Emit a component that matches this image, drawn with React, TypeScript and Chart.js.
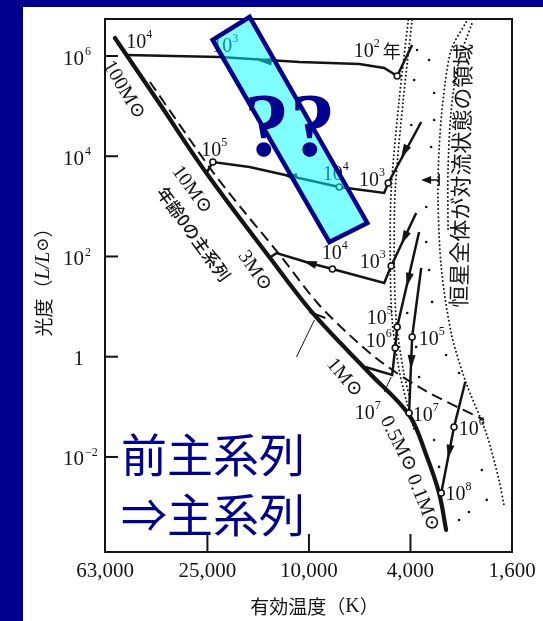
import { useEffect, useRef } from 'react';
import { Chart, registerables } from 'chart.js';

Chart.register(...registerables);

// ---------- axes ----------
const T_MIN = 1600;
const T_MAX = 63000;
const L_MIN = 1.27e-4;
const L_MAX = 5.47e6;
const X_TICKS = [63000, 25000, 10000, 4000, 1600];
const X_TICK_LABELS = ['63,000', '25,000', '10,000', '4,000', '1,600'];
const Y_TICKS = [1e-2, 1, 1e2, 1e4, 1e6];
const Y_TICK_EXPONENTS = ['−2', '', '2', '4', '6'];

// ---------- zero-age main sequence (T [K], L [Lsun]) ----------
const ZAMS_T = [57600, 38400, 25400, 14300, 9520, 5800, 4050, 3470, 3090, 2900];
const ZAMS_L = [2.29e6, 1.1e5, 4850, 97.7, 6.81, 0.474, 0.0689, 0.011, 0.00191, 3.5e-4];

// dashed line
const DASHED_T = [42000, 23800, 17900, 13000, 9260, 6940, 5210, 3540, 2060];
const DASHED_L = [3.03e5, 4850, 773, 107, 11.8, 2.72, 0.785, 0.217, 0.0547];

// pre-main-sequence tracks
const TRACK_100_T = [3940, 4510, 5070, 6350, 10900, 22400, 52100];
const TRACK_100_L = [1.66e6, 3.99e5, 5.77e5, 6.92e5, 7.59e5, 9.55e5, 1.05e6];
const TRACK_10_T = [3630, 4890, 5070, 7600, 11900, 17100, 23800, 25200];
const TRACK_10_L = [4.82e4, 2920, 1850, 2440, 4040, 6110, 7670, 4630];
const TRACK_3_T = [3800, 4760, 5070, 8090, 9950, 13400, 14300];
const TRACK_3_L = [738, 64.7, 29.6, 56.4, 74.1, 117, 93.3];
const TRACK_1_T = [3700, 4510, 4590, 4720, 6010];
const TRACK_1_L = [308, 3.93, 1.5, 0.432, 0.625];
const TRACK_05_T = [3630, 3940, 4050];
const TRACK_05_L = [59.0, 2.48, 0.0755];
const TRACK_01_T = [2440, 2700, 3030];
const TRACK_01_L = [0.313, 0.0397, 0.00191];

// age markers (open circles)
const AGE_MARK_T = [4510, 23800, 7600, 4890, 8090, 4760, 4510, 4590, 3940, 4050, 2700, 3030];
const AGE_MARK_L = [3.99e5, 7670, 2440, 2920, 56.4, 64.7, 3.93, 1.5, 2.48, 0.0755, 0.0397, 0.00191];

// arrowheads: position and the point they head to
const ARROW_T = [14900, 4230, 11900, 4230, 9950, 4080, 3970, 2820];
const ARROW_L = [7.94e5, 1.22e4, 4040, 234, 74.1, 34.0, 0.785, 0.0126];
const ARROW_TO_T = [22400, 4890, 17100, 4760, 13400, 4510, 4050, 3030];
const ARROW_TO_L = [9.55e5, 2920, 6110, 64.7, 117, 3.93, 0.0755, 0.00191];

// Hayashi / fully-convective boundaries (dotted)
const HAYASHI_A_T = [4080, 4430, 4760, 4800, 4720, 4430, 4160, 3870];
const HAYASHI_A_L = [5.22e6, 1.32e5, 2120, 85.1, 5.41, 0.545, 0.137, 0.0346];
const HAYASHI_B_T = [3940, 4270, 4590, 4630, 4550, 4270, 4010];
const HAYASHI_B_L = [5.22e6, 1.32e5, 2120, 85.1, 5.41, 0.545, 0.137];
const CONV_A_T = [2420, 2770, 2980, 3090, 3120, 3030, 2770, 2420, 2020, 1800, 1720];
const CONV_A_L = [4.77e6, 1.32e6, 1.32e5, 1.33e4, 1340, 61.8, 2.98, 0.299, 0.0301, 0.00348, 0.0011];
const CONV_B_T = [2300, 2580, 2770, 2850, 2850];
const CONV_B_L = [4.35e6, 8.32e5, 8.37e4, 5320, 338];
const DOTS_T = [3770, 3870, 3230, 3970, 3230, 3320, 3470, 3470, 3380, 3290, 4120, 3800, 2900, 3700, 2580, 3230, 3090, 2100, 2010, 2580, 2360, 3380];
const DOTS_L = [1.32e6, 3.32e5, 1.83e5, 4.2e4, 5.28e4, 1.53e4, 973, 194, 53.8, 12.4, 7.46, 1.57, 1.08, 0.394, 0.474, 0.0218, 0.00633, 0.00551, 0.00139, 5.54e-4, 8.0e-4, 8.32e5];

// thin leader lines
const LEADER_T = [11190, 9515];
const LEADER_L = [0.989, 5.41];
const CROSS_T = [9950, 8620];
const CROSS_L = [7.82, 5.93];
const LEADER2_T = [4760, 5070];
const LEADER2_L = [0.394, 0.198];

// arrow pointing into convective region label
const CONV_ARROW_T = [3090, 3600];
const CONV_ARROW_L = [3360, 3360];

// age labels (10^n years)
const AGE_LABEL_T = [45600, 21000, 5400, 23200, 7740, 5590, 7810, 5550, 5210, 5250, 3260, 5800, 3440, 2270, 2560];
const AGE_LABEL_L = [1.99e6, 1.66e6, 1.32e6, 1.4e4, 4630, 3520, 123, 81.3, 6.21, 2.16, 2.37, 0.0791, 0.0721, 0.0379, 0.00191];
const AGE_LABEL_EXP = ['4', '3', '2', '5', '4', '3', '4', '3', '5', '6', '5', '7', '7', '6', '8'];
const AGE_LABEL_SUFFIX = ['', '', '年', '', '', '', '', '', '', '', '', '', '', '', ''];

// mass labels along ZAMS
const MASS_LABELS = ['100M⊙', '10M⊙', '3M⊙', '1M⊙', '0.5M⊙', '0.1M⊙'];
const MASS_T = [53100, 28800, 16300, 7260, 4470, 3570];
const MASS_L = [2.1e5, 2120, 51.4, 0.377, 0.0182, 0.00121];
const MASS_ANGLE = [59, 54, 55, 50, 63, 68];

const ZAMS_LABEL = '年齢0の主系列';
const ZAMS_LABEL_POS = [28300, 281, 54];
const CONV_LABEL = '恒星全体が対流状態の領域';
const CONV_LABEL_POS = [2540, 4100, -89];

// highlight box
const BOX_T = [23840, 17080, 5905, 8315];
const BOX_L = [2.09e6, 6.0e6, 466, 194];

const NAVY = '#00008e';
const INK = '#141414';
const SERIF = '"Liberation Serif", "DejaVu Serif", serif';
const CJK = '"Noto Sans CJK JP", sans-serif';

const pts = (ts: number[], ls: number[]) => ts.map((t, i) => ({ x: t, y: ls[i] }));

type Seg = { text: string; font: string; dy?: number };

function drawSegs(ctx: CanvasRenderingContext2D, segs: Seg[], cx: number, cy: number, angle = 0) {
  ctx.save();
  ctx.translate(cx, cy);
  ctx.rotate(angle);
  const ws = segs.map((s) => {
    ctx.font = s.font;
    return ctx.measureText(s.text).width;
  });
  const total = ws.reduce((a, b) => a + b, 0);
  let x = -total / 2;
  ctx.textAlign = 'left';
  ctx.textBaseline = 'middle';
  segs.forEach((s, i) => {
    ctx.font = s.font;
    ctx.fillText(s.text, x, s.dy || 0);
    x += ws[i];
  });
  ctx.restore();
}

function arrowHead(ctx: CanvasRenderingContext2D, x: number, y: number, tx: number, ty: number, len = 14, half = 4) {
  const d = Math.hypot(tx - x, ty - y) || 1;
  const ux = (tx - x) / d;
  const uy = (ty - y) / d;
  const tipX = x + ux * len * 0.5;
  const tipY = y + uy * len * 0.5;
  const bx = x - ux * len * 0.5;
  const by = y - uy * len * 0.5;
  ctx.beginPath();
  ctx.moveTo(tipX, tipY);
  ctx.lineTo(bx - uy * half, by + ux * half);
  ctx.lineTo(bx + uy * half, by - ux * half);
  ctx.closePath();
  ctx.fill();
}

const hrPlugin = {
  id: 'hrDecor',
  beforeDraw(chart: any) {
    const { ctx, width, height } = chart;
    ctx.save();
    ctx.fillStyle = NAVY;
    ctx.fillRect(0, 0, width, height);
    ctx.fillStyle = '#ffffff';
    ctx.fillRect(23, 7, width - 23, height - 7);
    ctx.restore();
  },
  afterDraw(chart: any) {
    const { ctx, chartArea: a } = chart;
    const xs = chart.scales.x;
    const ys = chart.scales.y;
    const P = (t: number, l: number) => [xs.getPixelForValue(t), ys.getPixelForValue(l)];
    ctx.save();

    // frame
    ctx.strokeStyle = INK;
    ctx.lineWidth = 2;
    ctx.strokeRect(a.left, a.top, a.right - a.left, a.bottom - a.top);

    // inward ticks
    ctx.lineWidth = 2;
    Y_TICKS.forEach((v) => {
      const y = ys.getPixelForValue(v);
      ctx.beginPath();
      ctx.moveTo(a.left, y);
      ctx.lineTo(a.left + 13, y);
      ctx.stroke();
    });
    X_TICKS.slice(1, -1).forEach((v) => {
      const x = xs.getPixelForValue(v);
      ctx.beginPath();
      ctx.moveTo(x, a.bottom);
      ctx.lineTo(x, a.bottom - 18);
      ctx.stroke();
    });

    // y tick labels
    ctx.fillStyle = INK;
    ctx.textBaseline = 'middle';
    Y_TICKS.forEach((v, i) => {
      const y = ys.getPixelForValue(v) + 3;
      const right = a.left - 21;
      const e = Y_TICK_EXPONENTS[i];
      ctx.font = `21px ${SERIF}`;
      ctx.textAlign = 'right';
      if (!e) {
        ctx.fillText('1', right, y);
      } else {
        ctx.fillText('10', right, y);
        ctx.font = `12px ${SERIF}`;
        ctx.textAlign = 'left';
        ctx.fillText(e, right + 1, y - 7);
      }
    });

    // axis titles
    drawSegs(
      ctx,
      [
        { text: '光度（', font: `19px ${CJK}` },
        { text: 'L/L', font: `italic 20px ${SERIF}` },
        { text: '⊙', font: `17px ${SERIF}` },
        { text: '）', font: `19px ${CJK}` },
      ],
      a.left - 61,
      (a.top + a.bottom) / 2 - 8,
      -Math.PI / 2
    );
    drawSegs(
      ctx,
      [
        { text: '有効温度（', font: `19px ${CJK}` },
        { text: 'K', font: `20px ${SERIF}` },
        { text: '）', font: `19px ${CJK}` },
      ],
      (a.left + a.right) / 2 + 6,
      a.bottom + 55
    );

    // age labels
    ctx.fillStyle = INK;
    AGE_LABEL_T.forEach((t, i) => {
      const [x, y] = P(t, AGE_LABEL_L[i]);
      const segs: Seg[] = [
        { text: '10', font: `20px ${SERIF}`, dy: 1.5 },
        { text: AGE_LABEL_EXP[i] + ' ', font: `12px ${SERIF}`, dy: -6 },
      ];
      if (AGE_LABEL_SUFFIX[i]) segs.push({ text: AGE_LABEL_SUFFIX[i], font: `18px ${CJK}`, dy: 1 });
      drawSegs(ctx, segs, x, y);
    });

    // mass labels
    MASS_LABELS.forEach((s, i) => {
      const [x, y] = P(MASS_T[i], MASS_L[i]);
      drawSegs(ctx, [{ text: s, font: `20px ${SERIF}` }], x, y, (MASS_ANGLE[i] * Math.PI) / 180);
    });
    {
      const [x, y] = P(ZAMS_LABEL_POS[0], ZAMS_LABEL_POS[1]);
      drawSegs(ctx, [{ text: ZAMS_LABEL, font: `500 17px ${CJK}` }], x, y, (ZAMS_LABEL_POS[2] * Math.PI) / 180);
    }
    {
      const [x, y] = P(CONV_LABEL_POS[0], CONV_LABEL_POS[1]);
      drawSegs(ctx, [{ text: CONV_LABEL, font: `22px ${CJK}` }], x, y, (CONV_LABEL_POS[2] * Math.PI) / 180);
    }

    // arrow toward convective region
    {
      const [x0, y0] = P(CONV_ARROW_T[0], CONV_ARROW_L[0]);
      const [x1, y1] = P(CONV_ARROW_T[1], CONV_ARROW_L[1]);
      ctx.lineWidth = 1.6;
      ctx.beginPath();
      ctx.moveTo(x0, y0);
      ctx.lineTo(x1 + 5, y1);
      ctx.moveTo(x0, y0 - 6);
      ctx.lineTo(x0, y0 + 6);
      ctx.stroke();
      arrowHead(ctx, x1 + 4, y1, x1 - 10, y1, 10, 4);
    }

    // arrowheads on tracks
    ARROW_T.forEach((t, i) => {
      const [x, y] = P(t, ARROW_L[i]);
      const [tx, ty] = P(ARROW_TO_T[i], ARROW_TO_L[i]);
      arrowHead(ctx, x, y, tx, ty, 14, 4);
    });

    // highlight box
    const corners = BOX_T.map((t, i) => P(t, BOX_L[i]));
    ctx.beginPath();
    corners.forEach(([x, y], i) => (i ? ctx.lineTo(x, y) : ctx.moveTo(x, y)));
    ctx.closePath();
    ctx.fillStyle = 'rgba(0,255,255,0.5)';
    ctx.fill();
    ctx.strokeStyle = NAVY;
    ctx.lineWidth = 4.5;
    ctx.lineJoin = 'miter';
    ctx.stroke();
    const cx = corners.reduce((s, c) => s + c[0], 0) / 4;
    const cy = corners.reduce((s, c) => s + c[1], 0) / 4;
    ctx.fillStyle = NAVY;
    ctx.font = `bold 92px ${SERIF}`;
    ctx.textAlign = 'center';
    ctx.textBaseline = 'middle';
    ctx.fillText('??', cx, cy + 2);

    // slide caption
    ctx.font = `46px ${CJK}`;
    ctx.textAlign = 'left';
    ctx.fillText('前主系列', a.left + 16, a.bottom - 97);
    ctx.fillText('⇒主系列', a.left + 16, a.bottom - 37);

    ctx.restore();
  },
};

export default function App() {
  const ref = useRef<HTMLCanvasElement>(null);
  useEffect(() => {
    document.body.style.margin = '0';
    const canvas = ref.current;
    if (!canvas) return;
    const lineDs = (ts: number[], ls: number[], extra: any = {}) => ({
      data: pts(ts, ls),
      showLine: true,
      pointRadius: 0,
      borderColor: INK,
      backgroundColor: INK,
      borderWidth: 2.5,
      tension: 0,
      fill: false,
      ...extra,
    });
    const dotted = { borderWidth: 2, borderDash: [0, 4], borderCapStyle: 'round', tension: 0.3, order: 5 };
    const chart = new Chart(canvas, {
      type: 'scatter',
      data: {
        datasets: [
          {
            data: pts(AGE_MARK_T, AGE_MARK_L),
            pointRadius: 3,
            pointBackgroundColor: '#ffffff',
            pointBorderColor: INK,
            pointBorderWidth: 1.6,
            showLine: false,
            order: 0,
          } as any,
          lineDs(TRACK_100_T, TRACK_100_L, { order: 1 }),
          lineDs(TRACK_10_T, TRACK_10_L, { order: 1 }),
          lineDs(TRACK_3_T, TRACK_3_L, { order: 1 }),
          lineDs(TRACK_1_T, TRACK_1_L, { order: 1 }),
          lineDs(TRACK_05_T, TRACK_05_L, { order: 1 }),
          lineDs(TRACK_01_T, TRACK_01_L, { order: 1 }),
          lineDs(ZAMS_T, ZAMS_L, { borderWidth: 4.2, tension: 0.35, borderCapStyle: 'round', order: 2 }),
          lineDs(DASHED_T, DASHED_L, { borderWidth: 2, borderDash: [11, 6], tension: 0.3, order: 3 }),
          lineDs(LEADER_T, LEADER_L, { borderWidth: 1, order: 3 }),
          lineDs(CROSS_T, CROSS_L, { borderWidth: 2, order: 3 }),
          lineDs(LEADER2_T, LEADER2_L, { borderWidth: 1, order: 3 }),
          lineDs(HAYASHI_A_T, HAYASHI_A_L, dotted),
          lineDs(HAYASHI_B_T, HAYASHI_B_L, dotted),
          lineDs(CONV_A_T, CONV_A_L, dotted),
          lineDs(CONV_B_T, CONV_B_L, dotted),
          {
            data: pts(DOTS_T, DOTS_L),
            pointRadius: 1.3,
            pointBackgroundColor: INK,
            pointBorderWidth: 0,
            showLine: false,
            order: 5,
          } as any,
        ],
      },
      options: {
        responsive: false,
        animation: false,
        events: [],
        layout: { padding: { left: 0, right: 31, top: 19, bottom: 0 } },
        plugins: { legend: { display: false }, tooltip: { enabled: false } },
        scales: {
          x: {
            type: 'logarithmic',
            reverse: true,
            min: T_MIN,
            max: T_MAX,
            bounds: 'data',
            afterBuildTicks: (s: any) => {
              s.ticks = X_TICKS.map((v) => ({ value: v }));
            },
            afterFit: (s: any) => {
              s.height = 69;
            },
            grid: { display: false, drawTicks: false },
            border: { display: false },
            ticks: {
              autoSkip: false,
              maxRotation: 0,
              minRotation: 0,
              padding: 7,
              color: INK,
              font: { family: SERIF, size: 21 },
              callback: (v: any) => X_TICK_LABELS[X_TICKS.indexOf(Number(v))] ?? '',
            },
          },
          y: {
            type: 'logarithmic',
            min: L_MIN,
            max: L_MAX,
            bounds: 'data',
            afterBuildTicks: (s: any) => {
              s.ticks = Y_TICKS.map((v) => ({ value: v }));
            },
            afterFit: (s: any) => {
              s.width = 105;
            },
            grid: { display: false, drawTicks: false },
            border: { display: false },
            ticks: { display: false },
          },
        },
      } as any,
      plugins: [hrPlugin],
    });
    return () => chart.destroy();
  }, []);
  return (
    <div style={{ position: 'fixed', left: 0, top: 0, width: 543, height: 621 }}>
      <canvas ref={ref} width={543} height={621} style={{ display: 'block' }} />
    </div>
  );
}
